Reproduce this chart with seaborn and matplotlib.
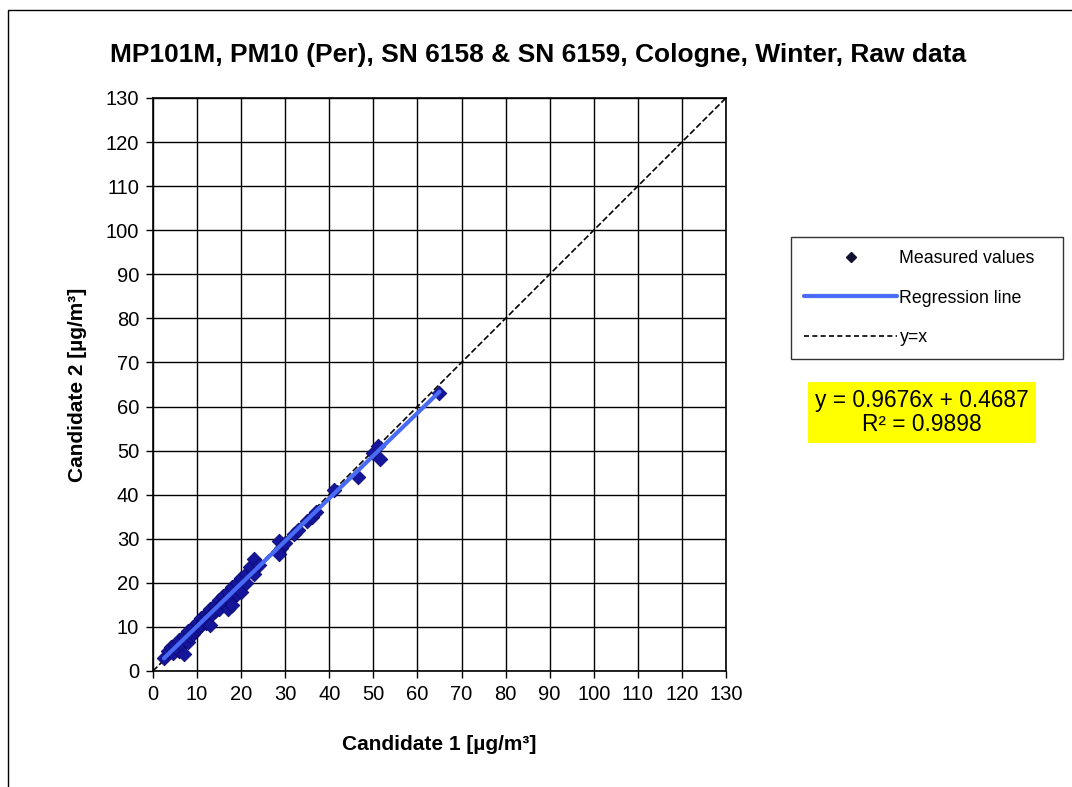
import matplotlib
matplotlib.use("Agg")
import matplotlib.pyplot as plt
import numpy as np
import pandas as pd
import seaborn as sns
from matplotlib.lines import Line2D
from matplotlib.patches import Rectangle

cand1 = [2.5, 3.5, 4.0, 4.5, 5.0, 5.5, 6.0, 6.0, 6.5, 7.0, 7.0, 7.5, 8.0, 8.0,
         8.5, 9.0, 9.0, 9.5, 10.0, 10.0, 10.5, 11.0, 11.0, 11.5, 12.0, 12.0,
         12.5, 13.0, 13.0, 13.5, 14.0, 14.0, 15.0, 15.0, 16.0, 16.0, 17.0,
         17.0, 17.5, 18.0, 18.0, 19.0, 19.0, 20.0, 20.0, 21.0, 21.0, 22.0,
         23.0, 23.0, 24.0, 28.5, 29.0, 28.5, 30.0, 32.0, 33.0, 35.0, 36.0,
         37.0, 41.0, 46.5, 50.0, 51.0, 51.5, 65.0]
cand2 = [3.0, 4.5, 5.5, 4.0, 6.0, 5.0, 4.5, 7.0, 6.0, 3.8, 8.0, 7.0, 9.0, 6.5,
         8.0, 10.0, 8.5, 9.0, 11.0, 9.5, 10.0, 12.0, 10.5, 11.5, 13.0, 11.0,
         12.5, 14.0, 10.5, 13.0, 15.0, 13.5, 16.0, 14.0, 17.0, 15.5, 14.0,
         18.0, 16.0, 19.0, 15.0, 20.0, 17.5, 21.0, 18.0, 22.0, 20.0, 23.5,
         25.5, 22.0, 24.0, 29.5, 28.0, 26.5, 29.0, 31.0, 32.0, 34.0, 35.0,
         36.0, 41.0, 44.0, 49.5, 51.0, 48.0, 63.0]

# Regression result as given on the chart
slope = 0.9676
intercept = 0.4687
r_squared = 0.9898

ticks = list(range(0, 131, 10))

df = pd.DataFrame({"c1": cand1, "c2": cand2})

sns.set_theme(style="white")
plt.rcParams["font.family"] = ["Liberation Sans", "DejaVu Sans"]
plt.rcParams["text.color"] = "black"
plt.rcParams["axes.labelcolor"] = "black"
plt.rcParams["xtick.color"] = "black"
plt.rcParams["ytick.color"] = "black"

fig = plt.figure(figsize=(10.72, 7.87), dpi=100)
ax = fig.add_axes([0.1427, 0.1474, 0.5345, 0.7281])

# grid
ax.set_xticks(ticks)
ax.set_yticks(ticks)
ax.grid(True, color="black", linewidth=1.0)
ax.set_axisbelow(True)

# y = x
diag = pd.DataFrame({"x": [0, 130], "y": [0, 130]})
sns.lineplot(data=diag, x="x", y="y", ax=ax, color="black", linestyle="--",
             linewidth=1.2, dashes=(3, 2), zorder=2)

sns.scatterplot(data=df, x="c1", y="c2", ax=ax, marker="D", s=55,
                color="#16169c", edgecolor="#0a0a70", linewidth=0.6, zorder=3)

xr = np.array([min(cand1), max(cand1)])
reg = pd.DataFrame({"x": xr, "y": slope * xr + intercept})
sns.lineplot(data=reg, x="x", y="y", ax=ax, color="#4a6cf5", linewidth=3,
             zorder=4)

ax.set_xlim(0, 130)
ax.set_ylim(0, 130)
ax.tick_params(axis="both", direction="out", length=5, width=1, color="black",
               labelsize=14.5, bottom=True, left=True, pad=5)
for s in ax.spines.values():
    s.set_color("black")
    s.set_linewidth(1.2)

ax.set_xlabel("Candidate 1 [µg/m³]", fontsize=15, fontweight="bold")
ax.set_ylabel("Candidate 2 [µg/m³]", fontsize=15, fontweight="bold")
ax.xaxis.set_label_coords(0.5, -0.112)
ax.yaxis.set_label_coords(-0.115, 0.5)

fig.text(0.502, 0.930, "MP101M, PM10 (Per), SN 6158 & SN 6159, Cologne, Winter, Raw data",
         ha="center", va="center", fontsize=19, fontweight="bold")

# legend
handles = [
    Line2D([], [], marker="D", linestyle="none", color="#101030", markersize=5),
    Line2D([], [], color="#4a6cf5", linewidth=3),
    Line2D([], [], color="black", linestyle="--", linewidth=1.2, dashes=(3, 2)),
]
labels = ["Measured values", "Regression line", "y=x"]
leg = fig.legend(handles, labels, loc="upper left", mode="expand",
                 bbox_to_anchor=(791 / 1072, (787 - 353) / 787, 272 / 1072, 116 / 787),
                 fontsize=12.8, frameon=True, fancybox=False, edgecolor="black",
                 handlelength=5.2, labelspacing=1.25, borderpad=0.75,
                 handletextpad=0.15, borderaxespad=0)
leg.get_frame().set_linewidth(1.0)

fig.text(0.860, 0.476, f"y = {slope}x + {intercept}\nR² = {r_squared}",
         ha="center", va="center", fontsize=16.4, linespacing=1.05,
         bbox=dict(boxstyle="square,pad=0.3", facecolor="#ffff00",
                   edgecolor="none"))

# outer border
fig.patches.append(Rectangle((8 / 1072, -0.02), 1.0, 1 - 10 / 787 + 0.02,
                             transform=fig.transFigure, fill=False,
                             edgecolor="black", linewidth=1.0))

fig.savefig("out.png", dpi=100)
